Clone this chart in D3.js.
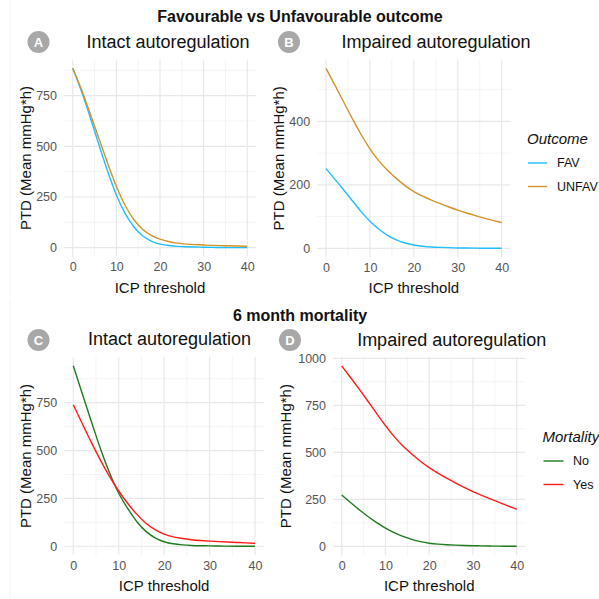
<!DOCTYPE html>
<html>
<head>
<meta charset="utf-8">
<script src="https://cdn.jsdelivr.net/npm/d3@7"></script>
<style>
  html, body { margin: 0; padding: 0; background: #ffffff; }
  svg { display: block; font-family: "Liberation Sans", Arial, sans-serif; }
</style>
</head>
<body>
<svg id="chart" width="599" height="599"></svg>
<script>
// ---------- data ----------
const icpThreshold = [0, 2, 4, 6, 8, 10, 12, 14, 16, 18, 20, 22, 24, 26, 28, 30, 32, 34, 36, 38, 40];
const xTicks = [0, 10, 20, 30, 40];

const outcomeLevels = ["FAV", "UNFAV"];
const mortalityLevels = ["No", "Yes"];

// Favourable vs Unfavourable outcome
const intactFAV     = [885, 775, 645, 507, 375, 255, 165, 100, 55, 30, 16, 10, 6, 4, 3, 2, 1, 1, 0, 0, 0];
const intactUNFAV   = [885, 785, 660, 540, 415, 300, 205, 135, 88, 58, 41, 30, 22, 17, 15, 13, 11, 10, 9, 8, 7];
const impairedFAV   = [251, 218, 185, 150, 115, 84, 60, 40, 26, 16, 10, 6, 4, 3, 2, 1, 1, 0.5, 0, 0, 0];
const impairedUNFAV = [567, 515, 462, 408, 358, 312, 275, 245, 220, 197, 178, 164, 152, 141, 130, 120, 111, 103, 95, 88, 81];

// 6 month mortality
const intactNo     = [943, 795, 650, 505, 380, 272, 195, 125, 75, 42, 22, 12, 7, 4, 3, 2, 1, 1, 0, 0, 0];
const intactYes    = [739, 640, 540, 448, 362, 287, 222, 165, 118, 85, 62, 48, 40, 34, 30, 27, 24, 22, 20, 18, 15];
const impairedNo   = [273, 232, 194, 158, 125, 96, 72, 52, 36, 24, 16, 11, 8, 6, 4, 3, 2, 1, 1, 0, 0];
const impairedYes  = [959, 898, 836, 772, 706, 641, 582, 532, 490, 452, 418, 389, 362, 337, 313, 291, 271, 252, 233, 215, 197];

const yTicksA = [0, 250, 500, 750];
const yTicksB = [0, 200, 400];
const yTicksC = [0, 250, 500, 750];
const yTicksD = [0, 250, 500, 750, 1000];

const outcomeColors = {FAV: "#1FBFFF", UNFAV: "#D4922A"};
const mortalityColors = {No: "#1E7B1E", Yes: "#FF1A1A"};

// ---------- drawing ----------
const svg = d3.select("#chart");

// faint outer border lines like the reference
svg.append("line").attr("x1", 10).attr("x2", 10).attr("y1", 0).attr("y2", 296)
  .attr("stroke", "#f3f3f3").attr("stroke-width", 1);
svg.append("line").attr("x1", 10).attr("x2", 10).attr("y1", 300).attr("y2", 596)
  .attr("stroke", "#f3f3f3").attr("stroke-width", 1);

function panel(opts) {
  const {box, series, yTicks, title, titleX, titleY, badge, badgeX, badgeY, yLabelX} = opts;
  const g = svg.append("g");
  const allVals = series.flatMap(s => s.values);
  const yMin = d3.min(allVals), yMax = d3.max(allVals);
  const yPad = (yMax - yMin) * 0.05;
  const x = d3.scaleLinear().domain([-2, 42]).range([box.left, box.right]);
  const y = d3.scaleLinear().domain([yMin - yPad, yMax + yPad]).range([box.bottom, box.top]);

  // minor grid
  const yStep = yTicks[1] - yTicks[0];
  const yMinor = [];
  for (let v = yTicks[0] - yStep / 2; v <= y.domain()[1]; v += yStep) {
    if (v >= y.domain()[0]) yMinor.push(v);
  }
  const xMinor = [5, 15, 25, 35];
  g.selectAll(".ymin").data(yMinor).join("line")
    .attr("x1", box.left).attr("x2", box.right)
    .attr("y1", d => y(d)).attr("y2", d => y(d))
    .attr("stroke", "#efefef").attr("stroke-width", 0.7);
  g.selectAll(".xmin").data(xMinor).join("line")
    .attr("y1", box.top).attr("y2", box.bottom)
    .attr("x1", d => x(d)).attr("x2", d => x(d))
    .attr("stroke", "#efefef").attr("stroke-width", 0.7);
  // major grid
  g.selectAll(".ymaj").data(yTicks).join("line")
    .attr("x1", box.left).attr("x2", box.right)
    .attr("y1", d => y(d)).attr("y2", d => y(d))
    .attr("stroke", "#e8e8e8").attr("stroke-width", 1.2);
  g.selectAll(".xmaj").data(xTicks).join("line")
    .attr("y1", box.top).attr("y2", box.bottom)
    .attr("x1", d => x(d)).attr("x2", d => x(d))
    .attr("stroke", "#e8e8e8").attr("stroke-width", 1.2);

  // axes (text only, theme_minimal style)
  const xAxis = g.append("g").attr("transform", `translate(0,${box.bottom})`)
    .call(d3.axisBottom(x).tickValues(xTicks).tickFormat(d3.format("d")).tickSize(0).tickPadding(6));
  const yAxis = g.append("g").attr("transform", `translate(${box.left},0)`)
    .call(d3.axisLeft(y).tickValues(yTicks).tickFormat(d3.format("d")).tickSize(0).tickPadding(7));
  [xAxis, yAxis].forEach(a => {
    a.select(".domain").remove();
    a.selectAll("text").attr("fill", "#555555").attr("font-size", 12.5)
      .attr("font-family", "Liberation Sans, Arial, sans-serif");
  });

  // lines
  const line = d3.line().x((d, i) => x(icpThreshold[i])).y(d => y(d)).curve(d3.curveBasis);
  series.forEach(s => {
    g.append("path").datum(s.values).attr("d", line)
      .attr("fill", "none").attr("stroke", s.color).attr("stroke-width", 1.4);
  });

  // axis titles
  g.append("text").attr("x", (box.left + box.right) / 2).attr("y", box.bottom + 36)
    .attr("text-anchor", "middle").attr("font-size", 15).attr("fill", "#111")
    .text("ICP threshold");
  g.append("text")
    .attr("transform", `translate(${yLabelX},${(box.top + box.bottom) / 2}) rotate(-90)`)
    .attr("text-anchor", "middle").attr("dominant-baseline", "central")
    .attr("font-size", 15).attr("fill", "#111")
    .text("PTD (Mean mmHg*h)");

  // panel title
  g.append("text").attr("x", titleX).attr("y", titleY).attr("text-anchor", "middle")
    .attr("dominant-baseline", "central").attr("font-size", 18).attr("fill", "#111")
    .text(title);

  // badge
  g.append("circle").attr("cx", badgeX).attr("cy", badgeY).attr("r", 11).attr("fill", "#a8a8a8");
  g.append("text").attr("x", badgeX).attr("y", badgeY + 0.5).attr("text-anchor", "middle")
    .attr("dominant-baseline", "central").attr("font-size", 13).attr("font-weight", "bold")
    .attr("fill", "#ffffff").text(badge);
}

function legend(lx, ly, title, levels, colors, keyW, labelX) {
  const g = svg.append("g");
  g.append("text").attr("x", lx).attr("y", ly).attr("dominant-baseline", "central")
    .attr("font-size", 15).attr("font-style", "italic").attr("fill", "#111").text(title);
  levels.forEach((lev, i) => {
    const yy = ly + 25 + i * 23.5;
    g.append("line").attr("x1", lx + 1).attr("x2", lx + 1 + keyW).attr("y1", yy).attr("y2", yy)
      .attr("stroke", colors[lev]).attr("stroke-width", 1.4);
    g.append("text").attr("x", labelX).attr("y", yy).attr("dominant-baseline", "central")
      .attr("font-size", 12.5).attr("fill", "#111").text(lev);
  });
}

// main titles
svg.append("text").attr("x", 300).attr("y", 16).attr("text-anchor", "middle")
  .attr("dominant-baseline", "central").attr("font-size", 16).attr("font-weight", "bold")
  .attr("fill", "#111").text("Favourable vs Unfavourable outcome");
svg.append("text").attr("x", 300).attr("y", 315).attr("text-anchor", "middle")
  .attr("dominant-baseline", "central").attr("font-size", 16).attr("font-weight", "bold")
  .attr("fill", "#111").text("6 month mortality");

panel({
  box: {left: 64, right: 256, top: 59.4, bottom: 256.6},
  series: [
    {values: intactFAV, color: outcomeColors.FAV},
    {values: intactUNFAV, color: outcomeColors.UNFAV}
  ],
  yTicks: yTicksA, title: "Intact autoregulation", titleX: 168, titleY: 42,
  badge: "A", badgeX: 38.5, badgeY: 42, yLabelX: 25
});
panel({
  box: {left: 317.2, right: 510.5, top: 59.4, bottom: 257.3},
  series: [
    {values: impairedFAV, color: outcomeColors.FAV},
    {values: impairedUNFAV, color: outcomeColors.UNFAV}
  ],
  yTicks: yTicksB, title: "Impaired autoregulation", titleX: 436, titleY: 42,
  badge: "B", badgeX: 289, badgeY: 42, yLabelX: 278
});
panel({
  box: {left: 64.2, right: 264.1, top: 356.7, bottom: 555.3},
  series: [
    {values: intactNo, color: mortalityColors.No},
    {values: intactYes, color: mortalityColors.Yes}
  ],
  yTicks: yTicksC, title: "Intact autoregulation", titleX: 169.5, titleY: 339,
  badge: "C", badgeX: 38.5, badgeY: 340, yLabelX: 25
});
panel({
  box: {left: 333, right: 525.4, top: 357, bottom: 555.3},
  series: [
    {values: impairedNo, color: mortalityColors.No},
    {values: impairedYes, color: mortalityColors.Yes}
  ],
  yTicks: yTicksD, title: "Impaired autoregulation", titleX: 451.7, titleY: 340,
  badge: "D", badgeX: 290, badgeY: 340, yLabelX: 285
});

legend(527, 138, "Outcome", outcomeLevels, outcomeColors, 19, 557);
legend(542.5, 436, "Mortality", mortalityLevels, mortalityColors, 20, 573);
</script>
</body>
</html>
